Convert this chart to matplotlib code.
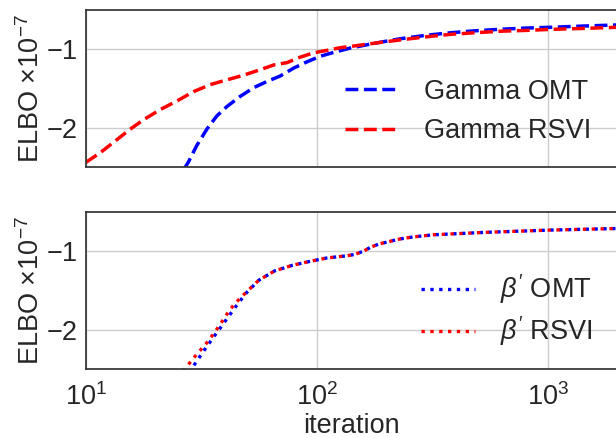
import matplotlib
matplotlib.use("Agg")
import matplotlib.pyplot as plt

# ---- data ----
gamma_omt_x = [26.5, 27.7, 30.1, 33.3, 36.8, 40.7, 46.5, 53.1, 60.7, 69.3, 79.2, 90.4,
               103, 118, 139, 180, 230, 300, 378, 480, 624, 800, 1026, 1400, 2000]
gamma_omt_y = [-2.53, -2.44, -2.23, -2.02, -1.85, -1.73, -1.60, -1.49, -1.41, -1.34, -1.24, -1.16,
               -1.09, -1.04, -0.985, -0.92, -0.865, -0.82, -0.79, -0.765, -0.745, -0.73, -0.72, -0.705, -0.69]

gamma_rsvi_x = [10, 11.5, 13.1, 15.5, 17.7, 20.9, 24.7, 29.2, 34.5, 40.7, 48.1, 56.8, 64.9,
                74.1, 84.6, 96.6, 110, 126, 139, 180, 230, 300, 378, 480, 624, 800, 1026, 1400, 2000]
gamma_rsvi_y = [-2.44, -2.32, -2.19, -2.02, -1.90, -1.77, -1.66, -1.54, -1.45, -1.39, -1.33, -1.26, -1.20,
                -1.17, -1.10, -1.045, -1.015, -0.98, -0.965, -0.92, -0.88, -0.84, -0.81, -0.79, -0.77, -0.76, -0.747, -0.735, -0.72]

beta_omt_x = [28, 29.2, 32.3, 35.7, 39.8, 44.3, 49.4, 55.9, 65.5, 77.9, 92.7, 110.5, 132.7,
              145.6, 158.4, 171.5, 186.3, 203, 222, 243, 265, 320, 526, 1025, 2000]
beta_omt_y = [-2.55, -2.46, -2.27, -2.09, -1.90, -1.71, -1.53, -1.37, -1.25, -1.18, -1.13, -1.085, -1.06,
              -1.04, -1.00, -0.945, -0.905, -0.88, -0.85, -0.83, -0.815, -0.79, -0.76, -0.73, -0.71]

beta_rsvi_x = [26.3, 26.9, 30.0, 33.7, 37.5, 41.4, 43.8, 49.4, 55.9, 65.5, 77.9, 92.7, 110.5, 132.7,
               145.6, 158.4, 171.5, 186.3, 203, 222, 243, 265, 320, 526, 1025, 2000]
beta_rsvi_y = [-2.53, -2.49, -2.32, -2.15, -1.96, -1.77, -1.675, -1.52, -1.37, -1.25, -1.18, -1.13, -1.085, -1.06,
               -1.04, -1.00, -0.945, -0.905, -0.88, -0.85, -0.83, -0.815, -0.79, -0.76, -0.73, -0.71]

yticks = [-2, -1]
xlim = (10, 2000)
ylim = (-2.5, -0.5)

# ---- style ----
FS = 19.5
TXT = "#262626"
plt.rcParams['font.family'] = ['Liberation Sans', 'DejaVu Sans']
plt.rcParams['mathtext.fontset'] = 'custom'
plt.rcParams['mathtext.rm'] = 'Liberation Sans'
plt.rcParams['mathtext.it'] = 'Liberation Sans:italic'

fig = plt.figure(figsize=(6.16, 4.38), dpi=100)
ax1 = fig.add_axes([86/616, 1 - 167/438, 1.003 - 86/616, 157/438])
ax2 = fig.add_axes([86/616, 1 - 369/438, 1.003 - 86/616, 157/438])

ax1.plot(gamma_omt_x, gamma_omt_y, color='blue', ls='--', lw=2.5, label='Gamma OMT')
ax1.plot(gamma_rsvi_x, gamma_rsvi_y, color='red', ls='--', lw=2.5, label='Gamma RSVI')
ax2.plot(beta_omt_x, beta_omt_y, color='blue', ls=':', lw=2.4, label=r"$\beta'$ OMT")
ax2.plot(beta_rsvi_x, beta_rsvi_y, color='red', ls=':', lw=2.4, label=r"$\beta'$ RSVI")

legend_cfg = {ax1: dict(anchor=(0.985, 0.025), spacing=0.5),
              ax2: dict(anchor=(0.988, 0.012), spacing=0.3)}

for ax in (ax1, ax2):
    ax.set_xscale('log')
    ax.set_xlim(*xlim)
    ax.set_ylim(*ylim)
    ax.set_yticks(yticks)
    ax.minorticks_off()
    ax.grid(True, color='#cccccc', lw=1.0)
    ax.set_axisbelow(True)
    for s in ax.spines.values():
        s.set_color('#333333')
        s.set_linewidth(1.25)
    ax.tick_params(length=0, labelsize=FS, colors=TXT)
    ax.tick_params(axis='y', pad=6)
    ax.tick_params(axis='x', pad=10)
    ax.set_ylabel('ELBO ×10$^{-7}$', fontsize=FS, color=TXT, labelpad=1)
    cfg = legend_cfg[ax]
    leg = ax.legend(loc='lower right', bbox_to_anchor=cfg['anchor'], frameon=False, fontsize=FS,
                    handlelength=2.0, handletextpad=0.9, labelspacing=cfg['spacing'],
                    borderaxespad=0.3)
    for t in leg.get_texts():
        t.set_color(TXT)

ax1.tick_params(labelbottom=False)
ax2.set_xlabel('iteration', fontsize=FS, color=TXT, labelpad=2)

fig.savefig('out.png', dpi=100)
